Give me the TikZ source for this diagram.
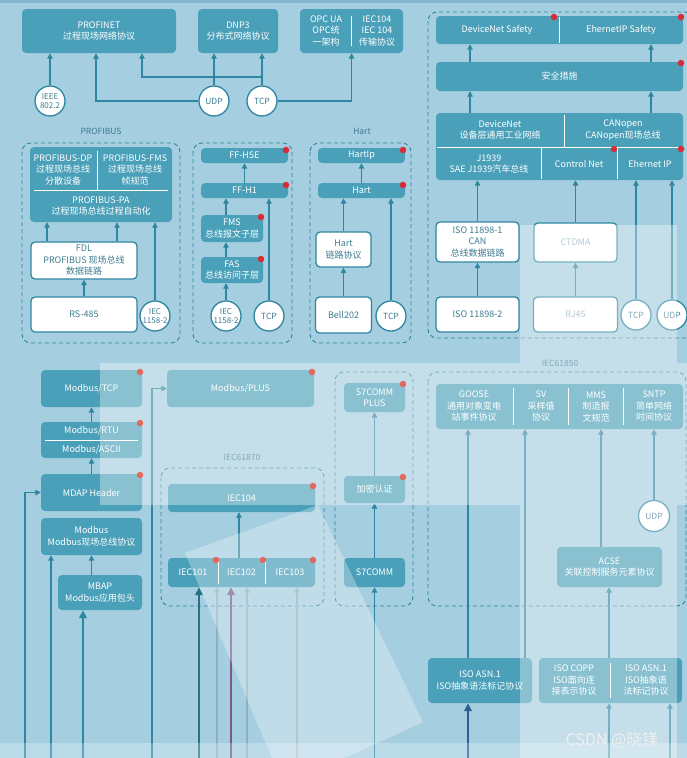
\documentclass[tikz,border=0pt]{standalone}
\usepackage{fontspec}
\setmainfont{Noto Sans CJK SC}
\usetikzlibrary{arrows.meta}

\definecolor{bgc}{HTML}{A5CEE0}
\definecolor{boxc}{HTML}{4AA0B9}
\definecolor{linec}{HTML}{2F86A0}
\definecolor{txtc}{HTML}{3D7C91}
\definecolor{dotc}{HTML}{D92B37}
\definecolor{dotb}{HTML}{E3695C}
\definecolor{grayc}{HTML}{8FAFBD}
\definecolor{purc}{HTML}{7A5A88}
\definecolor{navyc}{HTML}{2E5E90}

\tikzset{
  sz/.style 2 args={minimum width=#1pt, minimum height=#2pt},
  blk/.style={rectangle, rounded corners=4pt, fill=boxc, text=white, inner sep=0pt, align=center, font=\fontsize{9}{11.5}\selectfont},
  wblk/.style={blk, fill=white, draw=linec, line width=1.3pt, text=txtc},
  lbl/.style={inner sep=0pt, align=center, text=white, font=\fontsize{9}{11.5}\selectfont},
  circ/.style={circle, fill=white, draw=linec, line width=1.3pt, inner sep=0pt, minimum size=30pt, text=txtc, align=center, font=\fontsize{8.5}{9}\selectfont},
  smallc/.style={font=\fontsize{8}{8.6}\selectfont},
  grp/.style={draw=linec, dash pattern=on 4pt off 3pt, rounded corners=9pt, line width=0.9pt},
  grptitle/.style={text=txtc, font=\fontsize{8.5}{10}\selectfont},
  arr/.style={linec, line width=1.3pt, -{Triangle[length=5.5pt,width=5.5pt]}},
  fatarr/.style={arr, line width=2.4pt, -{Triangle[length=8pt,width=7.5pt]}},
  divl/.style={draw=white, line width=0.9pt},
  rdot/.style={circle, fill=dotc, inner sep=0pt, minimum size=6.5pt},
  haze/.style={fill=white, opacity=0.35},
}

\begin{document}
\begin{tikzpicture}[x=1pt, y=-1pt]

    % Background
    \useasboundingbox (0,0) rectangle (687,758);
    \clip (0,0) rectangle (687,758);
    \fill[bgc] (0,0) rectangle (687,758);
    \fill[bgc!70!linec] (0,0) rectangle (687,3);

    % Groups
    \draw[grp] (428,12) rectangle (694,338);
    \node[grptitle] (tPb) at (101,131) {PROFIBUS};
    \draw[grp] (22,143) rectangle (180,343);
    \draw[grp] (193,143) rectangle (292,343);
    \node[grptitle] (tHart) at (362,131) {Hart};
    \draw[grp] (310,143) rectangle (411,343);
    \node[grptitle] (tSevenZero) at (242,457) {IEC61870};
    \draw[grp] (161,468) rectangle (324,606);
    \draw[grp] (335,372) rectangle (413,606);
    \node[grptitle] (tEightFive) at (560,363) {IEC61850};
    \draw[grp] (428,372) rectangle (686,606);

    % Vertices: top row
    \node[blk, sz={154}{44}] (profinet) at (99,31) {PROFINET\\过程现场网络协议};
    \node[blk, sz={80}{44}] (dnp) at (238,31) {DNP3\\分布式网络协议};
    \node[blk, sz={103}{44}] (opc) at (351.5,31) {};
    \node[lbl] (opcUa) at (326,31) {OPC UA\\OPC统\\一架构};
    \node[lbl] (iecTr) at (377,31) {IEC104\\IEC 104\\传输协议};
    \draw[divl] (351.5,16) -- (351.5,46);
    \node[circ, smallc] (ieee) at (50,101) {IEEE\\802.2};
    \node[circ] (udpA) at (214,101) {UDP};
    \node[circ] (tcpA) at (262,101) {TCP};

    % Vertices: safety / CAN
    \node[blk, sz={247}{28}] (safety) at (559.5,30) {};
    \node[lbl] (dnSafe) at (497,30) {DeviceNet Safety};
    \node[lbl] (eipSafe) at (621,30) {EhernetIP Safety};
    \draw[divl] (559,17) -- (559,43);
    \node[blk, sz={247}{29}] (anquan) at (559.5,76.5) {安全措施};
    \node[blk, sz={247}{67}] (canbus) at (559.5,146.5) {};
    \node[lbl] (devnet) at (500,130) {DeviceNet\\设备层通用工业网络};
    \node[lbl] (canopen) at (623,130) {CANopen\\CANopen现场总线};
    \node[lbl] (jfour) at (489,164) {J1939\\SAE J1939汽车总线};
    \node[lbl] (cnet) at (579,164) {Control Net};
    \node[lbl] (eip) at (650,164) {Ehernet IP};
    \draw[divl] (437,147) -- (682,147) (564,115) -- (564,147)
                (541,147) -- (541,179) (617,147) -- (617,179);
    \node[wblk, sz={83}{40}] (isoA) at (477.5,242) {ISO 11898-1\\CAN\\总线数据链路};
    \node[wblk, sz={83}{39}, text=grayc] (ctdma) at (575.5,242.5) {CTDMA};
    \node[wblk, sz={83}{35}] (isoB) at (477.5,314.5) {ISO 11898-2};
    \node[wblk, sz={84}{35}, text=grayc] (rj45) at (575.5,314.5) {RJ45};
    \node[circ] (tcpB) at (636,315) {TCP};
    \node[circ] (udpB) at (672,315) {UDP};

    % Vertices: PROFIBUS
    \node[blk, sz={142}{75}] (pbTop) at (101,184.5) {};
    \node[lbl] (pbDp) at (63,170) {PROFIBUS-DP\\过程现场总线\\分散设备};
    \node[lbl] (pbFms) at (135,170) {PROFIBUS-FMS\\过程现场总线\\帧规范};
    \node[lbl] (pbPa) at (101,206) {PROFIBUS-PA\\过程现场总线过程自动化};
    \draw[divl] (34,190) -- (168,190) (97,151) -- (97,190);
    \node[wblk, sz={106}{37}] (fdl) at (84,260.5) {FDL\\PROFIBUS 现场总线\\数据链路};
    \node[wblk, sz={106}{35}] (rs485) at (84,314.5) {RS-485};
    \node[circ, smallc] (iecA) at (155,316) {IEC\\1158-2};

    % Vertices: FF
    \node[blk, sz={87}{15}] (ffHse) at (244.5,155.5) {FF-HSE};
    \node[blk, sz={87}{15}] (ffHone) at (244.5,190.5) {FF-H1};
    \node[blk, sz={62}{27}] (fms) at (232,228.5) {FMS\\总线报文子层};
    \node[blk, sz={62}{26}] (fas) at (232,270) {FAS\\总线访问子层};
    \node[circ, smallc] (iecB) at (226,316) {IEC\\1158-2};
    \node[circ] (tcpC) at (269,316) {TCP};

    % Vertices: Hart
    \node[blk, sz={87}{15}] (hartIp) at (361.5,155.5) {HartIp};
    \node[blk, sz={87}{15}] (hart) at (361.5,190.5) {Hart};
    \node[wblk, sz={55}{35}] (hartLink) at (343.5,249.5) {Hart\\链路协议};
    \node[wblk, sz={56}{36}] (bell) at (343.5,315) {Bell202};
    \node[circ] (tcpD) at (391,316) {TCP};

    % Vertices: Modbus
    \node[blk, sz={101}{37}] (mbTcp) at (91.5,388.5) {Modbus/TCP};
    \node[blk, sz={101}{36}] (mbRtu) at (91.5,440) {};
    \node[lbl] (rtu) at (91.5,431) {Modbus/RTU};
    \node[lbl] (ascii) at (91.5,449.5) {Modbus/ASCII};
    \draw[divl] (45,440) -- (138,440);
    \node[blk, sz={101}{37}] (mdap) at (91.5,492.5) {MDAP Header};
    \node[blk, sz={101}{37}] (modbus) at (91.5,536.5) {Modbus\\Modbus现场总线协议};
    \node[blk, sz={84}{35}] (mbap) at (100,592.5) {MBAP\\Modbus应用包头};
    \node[blk, sz={147}{37}] (mbPlus) at (240.5,388.5) {Modbus/PLUS};

    % Vertices: IEC61870
    \node[blk, sz={147}{28}] (iecFour) at (241.5,498) {IEC104};
    \node[blk, sz={147}{29}] (iecLow) at (241.5,572.5) {};
    \node[lbl] (iecOne) at (193,572.5) {IEC101};
    \node[lbl] (iecTwo) at (241.5,572.5) {IEC102};
    \node[lbl] (iecThree) at (290,572.5) {IEC103};
    \draw[divl] (218,561) -- (218,584) (265,561) -- (265,584);

    % Vertices: S7
    \node[blk, sz={61}{29}] (sPlus) at (374.5,397.5) {S7COMM\\PLUS};
    \node[blk, sz={61}{27}] (jiami) at (374.5,489.5) {加密认证};
    \node[blk, sz={61}{29}] (sComm) at (374.5,572.5) {S7COMM};

    % Vertices: IEC61850
    \node[blk, sz={247}{45}] (sixTop) at (559.5,406.5) {};
    \node[lbl] (goose) at (474,406.5) {GOOSE\\通用对象变电\\站事件协议};
    \node[lbl] (sv) at (541,406.5) {SV\\采样值\\协议};
    \node[lbl] (mms) at (596,406.5) {MMS\\制造报\\文规范};
    \node[lbl] (sntp) at (654,406.5) {SNTP\\简单网络\\时间协议};
    \draw[divl] (513,388) -- (513,425) (568,388) -- (568,425) (623,388) -- (623,425);
    \node[circ, minimum size=31pt] (udpC) at (654,516) {UDP};
    \node[blk, sz={105}{40}] (acse) at (609.5,567) {ACSE\\关联控制服务元素协议};
    \node[blk, sz={104}{45}] (asn) at (480,680.5) {ISO ASN.1\\ISO抽象语法标记协议};
    \node[blk, sz={143}{45}] (copp) at (610.5,680.5) {};
    \node[lbl] (coppTxt) at (574,680.5) {ISO COPP\\ISO面向连\\接表示协议};
    \node[lbl] (asnTxt) at (646,680.5) {ISO ASN.1\\ISO抽象语\\法标记协议};
    \draw[divl] (610,663) -- (610,698);

    % Free ends at the bottom
    \coordinate (inA) at (25,758);
    \coordinate (inB) at (51,758);
    \coordinate (inC) at (83,758);
    \coordinate (inD) at (152,758);
    \coordinate (inE) at (199,758);
    \coordinate (inF) at (217,758);
    \coordinate (inG) at (231,758);
    \coordinate (inH) at (247,758);
    \coordinate (inI) at (297,758);
    \coordinate (inJ) at (374.5,758);
    \coordinate (inK) at (468,758);
    \coordinate (inL) at (609,758);
    \coordinate (inM) at (670,758);

    % Edges: top row
    \draw[arr] (ieee) -- (profinet.south -| ieee);
    \draw[arr] (udpA.west) -| (profinet.south -| 96,0);
    \draw[arr] (udpA) -- (dnp.south -| udpA);
    \draw[arr] (tcpA) -- (dnp.south -| tcpA);
    \draw[arr] (tcpA |- 0,77) -| (profinet.south -| 142,0);
    \draw[arr] (tcpA.east) -| (opc.south);

    % Edges: safety / CAN
    \draw[arr] (canbus.north -| 470,0) -- (anquan.south -| 470,0);
    \draw[arr] (canbus.north -| 651,0) -- (anquan.south -| 651,0);
    \draw[arr] (anquan.north -| 470,0) -- (safety.south -| 470,0);
    \draw[arr] (anquan.north -| 651,0) -- (safety.south -| 651,0);
    \draw[arr] (isoB) -- (isoA);
    \draw[arr] (isoA) -- (canbus.south -| isoA);
    \draw[arr] (rj45) -- (ctdma);
    \draw[arr] (ctdma) -- (canbus.south -| ctdma);
    \draw[arr] (tcpB) -- (canbus.south -| tcpB);
    \draw[arr] (udpB) -- (canbus.south -| udpB);

    % Edges: PROFIBUS, FF, Hart
    \draw[arr] (fdl.north -| 47,0) -- (pbTop.south -| 47,0);
    \draw[arr] (fdl.north -| 117,0) -- (pbTop.south -| 117,0);
    \draw[arr] (rs485) -- (fdl);
    \draw[arr] (iecA) -- (pbTop.south -| iecA);
    \draw[arr] (ffHone) -- (ffHse);
    \draw[arr] (fms.north -| iecB) -- (ffHone.south -| iecB);
    \draw[arr] (fas.north -| iecB) -- (fms.south -| iecB);
    \draw[arr] (iecB) -- (fas.south -| iecB);
    \draw[arr] (tcpC) -- (ffHone.south -| tcpC);
    \draw[arr] (hart) -- (hartIp);
    \draw[arr] (hartLink) -- (hart.south -| hartLink);
    \draw[arr] (bell) -- (hartLink);
    \draw[arr] (tcpD) -- (hart.south -| tcpD);

    % Edges: Modbus
    \draw[arr] (mbRtu) -- (mbTcp);
    \draw[arr] (mdap) -- (mbRtu);
    \draw[arr] (mbap.north -| modbus) -- (modbus.south);
    \draw[arr] (inA) |- (mdap.west);
    \draw[arr] (inB) -- (modbus.south -| inB);
    \draw[fatarr] (inC) -- (mbap.south -| inC);
    \draw[arr] (inD) |- (mbPlus.west);

    % Edges: IEC61870, S7
    \draw[arr] (iecLow.north -| 239,0) -- (iecFour.south -| 239,0);
    \draw[fatarr, linec!85!black] (inE) -- (iecLow.south -| inE);
    \draw[arr, grayc] (inF) -- (iecLow.south -| inF);
    \draw[fatarr, purc] (inG) -- (iecLow.south -| inG);
    \draw[arr, grayc] (inH) -- (iecLow.south -| inH);
    \draw[arr, grayc] (inI) -- (iecLow.south -| inI);
    \draw[arr] (jiami) -- (sPlus);
    \draw[arr] (sComm) -- (jiami);
    \draw[arr] (inJ) -- (sComm.south -| inJ);

    % Edges: IEC61850
    \draw[arr] (asn.north -| 468,0) -- (sixTop.south -| 468,0);
    \draw[arr] (asn.north -| 525,0) -- (sixTop.south -| 525,0);
    \draw[arr] (acse.north -| 601,0) -- (sixTop.south -| 601,0);
    \draw[arr] (udpC) -- (sixTop.south -| udpC);
    \draw[arr] (copp.north -| 609,0) -- (acse.south -| 609,0);
    \draw[fatarr, navyc] (inK) -- (asn.south -| inK);
    \draw[arr] (inL) -- (copp.south -| inL);
    \draw[arr] (inM) -- (copp.south -| inM);

    % Light panes
    \fill[haze] (100,363) rectangle (687,505);
    \fill[haze] (520,225) rectangle (677,363);
    \fill[haze] (520,505) rectangle (677,758);
    \fill[haze, opacity=0.3] (185,553) -- (318,505) -- (423,722) -- (345,758) -- (272,758) -- cycle;
    \fill[haze, opacity=0.25] (0,743) rectangle (687,758);

    % Markers
    \foreach \px/\py [count=\i] in {554/17, 681/17, 681/63, 614/149, 681/149,
        286/150, 286/185, 261/217, 261/259, 403/150, 403/185}
      \node[rdot] (dotT\i) at (\px,\py) {};
    \foreach \px/\py [count=\i] in {140/372, 140/423, 140/475, 312/372, 313/486,
        216/560, 263/560, 313/560, 403/384, 403/477}
      \node[rdot, fill=dotb] (dotB\i) at (\px,\py) {};

    \node[text=white!88!gray, font=\fontsize{16}{16}\selectfont] (mark) at (612,740) {CSDN @晓镁};

\end{tikzpicture}
\end{document}
